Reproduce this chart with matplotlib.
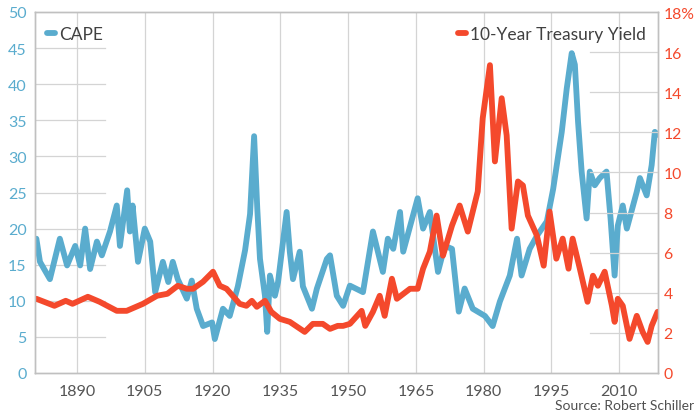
import matplotlib
matplotlib.use("Agg")
import matplotlib.pyplot as plt

# CAPE (left axis)
cape_years = [1881.0, 1881.8, 1884.0, 1886.2, 1887.8, 1889.6, 1890.7, 1891.8, 1892.9, 1894.4,
              1895.5, 1897.3, 1898.8, 1899.5, 1901.1, 1901.7, 1902.3, 1903.5, 1905.0, 1906.2,
              1907.3, 1909.0, 1910.2, 1911.2, 1912.3, 1914.3, 1915.4, 1916.5, 1917.9, 1919.9,
              1920.5, 1922.3, 1923.8, 1925.6, 1927.2, 1928.3, 1929.2, 1929.9, 1930.5, 1931.6,
              1932.1, 1932.7, 1933.8, 1934.5, 1936.4, 1937.1, 1937.8, 1939.3, 1940.0, 1942.0,
              1943.1, 1945.3, 1946.0, 1947.5, 1948.9, 1950.4, 1953.3, 1955.5, 1957.7, 1958.8,
              1960.0, 1961.5, 1962.2, 1965.4, 1966.6, 1968.1, 1969.9, 1971.4, 1973.0, 1974.5,
              1975.8, 1977.6, 1980.3, 1982.0, 1983.6, 1985.8, 1987.4, 1988.4, 1990.2, 1991.8,
              1994.0, 1995.4, 1997.3, 1998.4, 1999.5, 2000.2, 2000.9, 2001.7, 2002.8, 2003.5,
              2004.6, 2005.7, 2007.2, 2008.1, 2009.0, 2009.7, 2010.8, 2011.7, 2013.9, 2014.6,
              2016.1, 2017.2, 2017.9, 2018.5]
cape_values = [18.6, 15.4, 13.0, 18.6, 14.9, 17.6, 14.9, 20.0, 14.4, 18.2,
               16.3, 19.6, 23.2, 17.6, 25.3, 19.6, 23.2, 15.4, 20.0, 18.2,
               11.2, 15.4, 12.6, 15.4, 13.0, 10.3, 12.8, 8.9, 6.5, 7.0,
               4.7, 8.9, 7.9, 12.0, 17.0, 22.0, 32.8, 22.8, 15.8, 10.7,
               5.7, 13.5, 10.7, 12.6, 22.3, 16.8, 13.0, 16.8, 12.0, 8.9,
               11.7, 15.8, 16.3, 10.7, 9.3, 12.1, 11.2, 19.6, 14.0, 18.6,
               17.2, 22.3, 16.8, 24.2, 20.0, 22.3, 14.0, 17.6, 17.2, 8.5,
               11.7, 8.9, 7.9, 6.5, 9.9, 13.5, 18.6, 13.5, 17.2, 19.0,
               21.0, 25.5, 33.4, 39.4, 44.3, 42.7, 34.8, 27.9, 21.4, 27.9,
               26.0, 27.0, 27.9, 21.4, 13.5, 20.4, 23.2, 20.0, 25.1, 27.0,
               24.6, 28.8, 33.4, 33.0]

# 10-Year Treasury Yield (right axis, %)
yield_years = [1881.0, 1885.0, 1887.5, 1889.0, 1892.4, 1895.0, 1898.8, 1901.0, 1904.6, 1907.7,
               1910.0, 1912.3, 1914.3, 1915.7, 1917.9, 1920.1, 1921.6, 1923.1, 1926.0, 1927.5,
               1928.7, 1929.8, 1931.6, 1933.0, 1934.9, 1937.1, 1940.4, 1942.2, 1944.4, 1946.0,
               1947.7, 1948.9, 1950.4, 1953.0, 1953.8, 1955.5, 1957.0, 1958.1, 1959.7, 1960.8,
               1963.7, 1965.4, 1966.6, 1968.1, 1969.6, 1971.0, 1973.0, 1974.7, 1976.5, 1978.7,
               1979.8, 1981.4, 1982.5, 1984.0, 1985.1, 1986.2, 1987.6, 1988.7, 1989.8, 1991.8,
               1993.3, 1994.6, 1996.1, 1997.5, 1998.8, 1999.7, 2001.3, 2003.0, 2004.2, 2005.3,
               2006.8, 2008.4, 2009.0, 2009.7, 2010.8, 2012.3, 2013.9, 2015.2, 2016.3, 2017.2,
               2018.5]
yield_values = [3.7, 3.35, 3.6, 3.45, 3.8, 3.55, 3.1, 3.1, 3.45, 3.85,
                3.95, 4.35, 4.2, 4.2, 4.55, 5.05, 4.35, 4.2, 3.45, 3.35,
                3.6, 3.3, 3.6, 3.05, 2.7, 2.55, 2.05, 2.45, 2.45, 2.2,
                2.35, 2.35, 2.45, 3.1, 2.35, 3.05, 3.85, 2.85, 4.7, 3.7,
                4.2, 4.2, 5.2, 6.05, 7.85, 5.85, 7.35, 8.35, 7.05, 9.05,
                12.7, 15.35, 10.55, 13.7, 11.85, 7.2, 9.55, 9.35, 7.85, 6.85,
                5.35, 8.05, 5.7, 6.7, 5.2, 6.7, 5.2, 3.55, 4.85, 4.35,
                5.05, 3.35, 2.55, 3.7, 3.35, 1.7, 2.85, 2.05, 1.55, 2.35,
                3.05]

x_ticks = [1890, 1905, 1920, 1935, 1950, 1965, 1980, 1995, 2010]
left_ticks = [0, 5, 10, 15, 20, 25, 30, 35, 40, 45, 50]
right_ticks = [0, 2, 4, 6, 8, 10, 12, 14, 16, 18]
right_labels = ["0", "2", "4", "6", "8", "10", "12", "14", "16", "18%"]

BLUE = "#5aacce"
RED = "#f4492c"
GRID = "#d4d4d4"
FONT = ["Lato", "DejaVu Sans"]

plt.rcParams["font.family"] = FONT

fig = plt.figure(figsize=(6.94, 4.14), dpi=100)
ax = fig.add_axes([35 / 694, 1 - 374 / 414, 623 / 694, 361 / 414])
ax2 = ax.twinx()

ax.set_xlim(1880.7, 2018.6)
ax.set_ylim(0, 50)
ax2.set_ylim(0, 18)

ax.set_xticks(x_ticks)
ax.set_xticklabels([str(t) for t in x_ticks])
ax.set_yticks(left_ticks)
ax2.set_yticks(right_ticks)
ax2.set_yticklabels(right_labels)

for a in (ax, ax2):
    a.tick_params(length=0)
    for s in a.spines.values():
        s.set_color("#c0c0c0")
        s.set_linewidth(1.0)
ax.tick_params(axis="x", labelsize=11.5, labelcolor="#555555", pad=8)
ax.tick_params(axis="y", labelsize=11.5, labelcolor=BLUE, pad=6)
ax2.tick_params(axis="y", labelsize=11.3, labelcolor=RED, pad=4)

# grid: full vertical lines, short horizontal stubs at the sides
for t in x_ticks:
    ax.axvline(t, color=GRID, lw=0.9, zorder=0)
for t in left_ticks[1:-1]:
    ax.axhline(t, xmin=0, xmax=0.112, color=GRID, lw=0.9, zorder=0)
for t in right_ticks[1:-1]:
    ax2.axhline(t, xmin=0.891, xmax=1, color=GRID, lw=0.9, zorder=0)

ax.plot(cape_years, cape_values, color=BLUE, lw=4.2, solid_joinstyle="round",
        solid_capstyle="round", label="CAPE")
ax2.plot(yield_years, yield_values, color=RED, lw=4.2, solid_joinstyle="round",
         solid_capstyle="round", label="10-Year Treasury Yield")

leg1 = ax.legend(loc="upper left", frameon=False, handlelength=0.45, handletextpad=0.25,
                 fontsize=12.5, borderaxespad=0.3, bbox_to_anchor=(0.0, 0.995))
for t in leg1.get_texts():
    t.set_color("#404040")
leg2 = ax2.legend(loc="upper right", frameon=False, handlelength=0.45, handletextpad=0.25,
                  fontsize=12.5, borderaxespad=0.3, bbox_to_anchor=(1.0, 0.995))
for t in leg2.get_texts():
    t.set_color("#404040")

fig.text(1.0, 1 - 406 / 414, "Source: Robert Schiller", ha="right", va="center",
         fontsize=10, color="#505050")

fig.savefig("out.png", dpi=100)
